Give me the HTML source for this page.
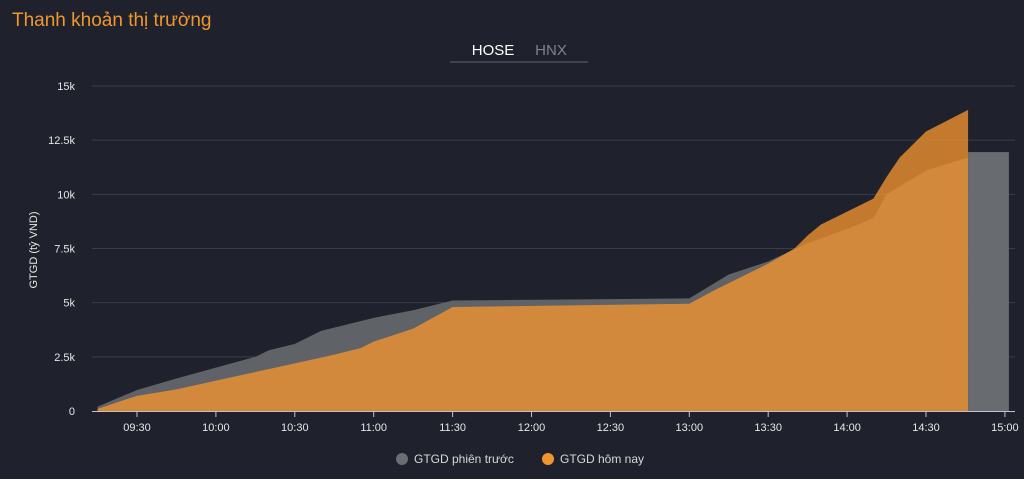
<!DOCTYPE html>
<html><head><meta charset="utf-8"><style>
body{margin:0;background:#1f222c;width:1024px;height:479px;overflow:hidden;font-family:"Liberation Sans",sans-serif}
</style></head><body>
<svg width="1024" height="479" style="position:absolute;left:0;top:0">
<text x="12" y="26" fill="#f0962f" font-size="19">Thanh khoản thị trường</text>
<line x1="450" y1="62" x2="588" y2="62" stroke="#4a4e58" stroke-width="1.5"/>
<text x="493" y="55" fill="#ffffff" font-size="15" text-anchor="middle">HOSE</text>
<text x="551" y="55" fill="#7d828c" font-size="15" text-anchor="middle">HNX</text>
<g id="grid"></g>
<g id="areas"></g>
<g id="axes"></g>
<text transform="translate(37,250) rotate(-90)" fill="#e6e6e6" font-size="11" text-anchor="middle">GTGD (tỷ VND)</text>
<circle cx="402" cy="459" r="6" fill="#6a6d72"/>
<text x="414" y="463" fill="#d8d8d8" font-size="12">GTGD phiên trước</text>
<circle cx="548" cy="459" r="6" fill="#f0962f"/>
<text x="560" y="463" fill="#d8d8d8" font-size="12">GTGD hôm nay</text>
</svg>
<script>
const yTicks=[0,2500,5000,7500,10000,12500,15000];
const yTickLabels=["0","2.5k","5k","7.5k","10k","12.5k","15k"];
const xTicks=["09:30","10:00","10:30","11:00","11:30","12:00","12:30","13:00","13:30","14:00","14:30","15:00"];
const prevTimes=["09:15","09:30","09:45","10:00","10:15","10:20","10:30","10:40","10:50","11:00","11:15","11:30","13:00","13:15","13:30","13:45","14:00","14:10","14:15","14:30","14:46"];
const prevValues=[200,970,1500,2000,2500,2800,3100,3700,4000,4300,4650,5100,5200,6300,6900,7750,8400,8900,10000,11100,11700];
const prevClose=11950;
const todayTimes=["09:15","09:30","09:45","10:00","10:15","10:30","10:45","10:55","11:00","11:15","11:30","13:00","13:10","13:20","13:30","13:40","13:45","13:50","14:00","14:10","14:15","14:20","14:30","14:46"];
const todayValues=[100,700,1000,1400,1800,2200,2600,2900,3200,3800,4800,4950,5600,6200,6800,7500,8100,8600,9200,9800,10800,11700,12900,13900];
const NS="http://www.w3.org/2000/svg";
function mins(t){const p=t.split(":");return +p[0]*60+ +p[1];}
function xs(t){return 137+(mins(t)-570)*78.9/30;}
function ys(v){return 411-v*(325/15000);}
function mk(tag,attrs,parent){const e=document.createElementNS(NS,tag);for(const k in attrs)e.setAttribute(k,attrs[k]);document.getElementById(parent).appendChild(e);return e;}
yTicks.forEach((v,i)=>{
 if(i>0){const l=mk("line",{x1:92,x2:1015,y1:ys(v),y2:ys(v),stroke:"#3a3e48","stroke-width":1},"grid");
 
 }
 const t=mk("text",{x:75,y:ys(v)+4,fill:"#e6e6e6","font-size":11,"text-anchor":"end"},"axes");
 t.textContent=yTickLabels[i];
 
 
});
function area(times,vals){let d="M"+xs(times[0])+","+ys(0);times.forEach((t,i)=>{d+=" L"+xs(t)+","+ys(vals[i]);});d+=" L"+xs(times[times.length-1])+","+ys(0)+"Z";return d;}
const ga=mk("path",{d:area(prevTimes,prevValues),fill:"#5f6267"},"areas");


const lastX=xs(prevTimes[prevTimes.length-1]);
const gb=mk("rect",{x:lastX,y:ys(prevClose),width:xs("15:00")+4-lastX,height:ys(0)-ys(prevClose),fill:"#686b6f"},"areas");


const oa=mk("path",{d:area(todayTimes,todayValues),fill:"rgba(247,150,47,0.76)"},"areas");


const ax=mk("line",{x1:92,x2:1015,y1:411.5,y2:411.5,stroke:"#bfc3c9","stroke-width":1},"axes");


xTicks.forEach(t=>{
 const tk=mk("line",{x1:xs(t),x2:xs(t),y1:411,y2:417,stroke:"#bfc3c9"},"axes");
 
 
 const tx=mk("text",{x:xs(t),y:431,fill:"#e6e6e6","font-size":11,"text-anchor":"middle"},"axes");
 tx.textContent=t;
 
 
});
</script>
</body></html>
